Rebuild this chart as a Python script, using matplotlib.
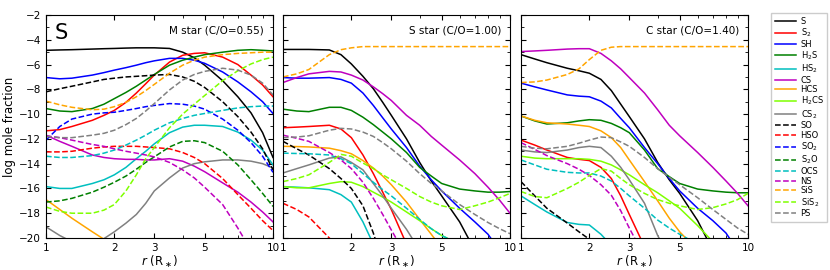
import numpy as np
import matplotlib.pyplot as plt
from matplotlib.ticker import MultipleLocator, NullFormatter

nan = np.nan

# radius grid (stellar radii)
r = [1, 1.15, 1.3, 1.6, 1.8, 2, 2.25, 2.5, 2.75, 3, 3.5, 4, 4.5, 5, 6, 7, 8, 9, 10]

species = ['S', 'S$_2$', 'SH', 'H$_2$S', 'HS$_2$', 'CS', 'HCS', 'H$_2$CS', 'CS$_2$',
           'SO', 'HSO', 'SO$_2$', 'S$_2$O', 'OCS', 'NS', 'SiS', 'SiS$_2$', 'PS']
colors = ['k', 'r', 'b', 'g', 'c', 'm', 'orange', 'chartreuse', 'gray'] * 2
styles = ['-'] * 9 + ['--'] * 9

NONE = [nan] * 19

# M star (C/O=0.55)
m_star = [
    [-4.85, -4.82, -4.8, -4.75, -4.72, -4.7, -4.67, -4.65, -4.65, -4.65, -4.7, -5.0, -5.45, -6.05, -7.3, -8.6, -9.9, -11.5, -13.5],
    [-11.35, -11.25, -11.0, -10.5, -10.1, -9.7, -9.05, -8.3, -7.55, -6.85, -5.8, -5.25, -5.1, -5.05, -5.4, -6.0, -6.85, -7.65, -8.6],
    [-7.05, -7.15, -7.1, -6.85, -6.65, -6.45, -6.25, -6.05, -5.85, -5.7, -5.5, -5.5, -5.65, -5.9, -6.6, -7.4, -8.2, -9.0, -9.95],
    [-9.55, -9.75, -9.8, -9.55, -9.2, -8.75, -8.25, -7.75, -7.25, -6.8, -6.05, -5.65, -5.4, -5.2, -5.0, -4.85, -4.8, -4.85, -4.9],
    [-15.85, -16.0, -16.0, -15.6, -15.3, -14.9, -14.3, -13.6, -13.0, -12.4, -11.5, -11.05, -10.9, -10.9, -11.0, -11.45, -12.1, -12.9, -14.1],
    [-11.7, -12.2, -12.6, -13.3, -13.5, -13.6, -13.65, -13.65, -13.7, -13.7, -13.6, -13.8, -14.2, -14.65, -15.55, -16.3, -17.1, -17.9, -18.7],
    [-16.9, -17.7, -18.4, -19.5, -20.1, -20.6, nan, nan, nan, nan, nan, nan, nan, nan, nan, nan, nan, nan, nan],
    NONE,
    [-19.1, -19.8, -20.3, -20.4, -20.05, -19.5, -18.8, -18.1, -17.2, -16.2, -15.15, -14.35, -14.0, -13.85, -13.7, -13.7, -13.8, -14.0, -14.35],
    [-8.2, -7.95, -7.75, -7.4, -7.2, -7.1, -7.0, -6.95, -6.9, -6.85, -6.8, -7.0, -7.35, -7.85, -9.0, -10.2, -11.45, -12.8, -14.5],
    [-13.05, -13.05, -13.0, -12.75, -12.65, -12.6, -12.6, -12.6, -12.65, -12.7, -12.8, -13.1, -13.5, -14.0, -15.2, -16.5, -17.6, -18.6, -19.4],
    [-12.1, -11.0, -10.4, -10.0, -9.9, -9.85, -9.7, -9.55, -9.4, -9.3, -9.15, -9.2, -9.35, -9.6, -10.4, -11.3, -12.3, -13.4, -14.7],
    [-17.1, -17.0, -16.8, -16.3, -15.9, -15.5, -15.0, -14.45, -13.9, -13.45, -12.65, -12.2, -12.15, -12.3, -13.0, -14.1, -15.3, -16.4, -17.45],
    [-13.4, -13.5, -13.5, -13.35, -13.15, -12.9, -12.5, -12.1, -11.7, -11.3, -10.7, -10.35, -10.1, -9.95, -9.7, -9.5, -9.4, -9.35, -9.35],
    [-11.75, -11.9, -12.1, -12.45, -12.6, -12.8, -13.0, -13.15, -13.3, -13.45, -13.9, -14.5, -15.15, -15.9, -17.3, -19.2, -21.0, nan, nan],
    [-8.95, -9.25, -9.45, -9.65, -9.6, -9.4, -9.05, -8.6, -8.1, -7.6, -6.7, -6.05, -5.65, -5.4, -5.2, -5.1, -5.05, -5.0, -5.0],
    [-17.5, -17.85, -18.0, -18.0, -17.75, -17.3, -16.2, -14.9, -13.6, -12.7, -11.1, -10.0, -9.2, -8.5, -7.3, -6.5, -5.95, -5.6, -5.4],
    [-11.8, -11.9, -11.9, -11.7, -11.55, -11.3, -10.85, -10.35, -9.75, -9.15, -8.05, -7.25, -6.8, -6.55, -6.3, -6.45, -6.85, -7.5, -8.45],
]

# S star (C/O=1.00)
s_star = [
    [-4.78, -4.78, -4.78, -4.82, -5.2, -5.95, -6.95, -7.95, -9.05, -10.1, -12.0, -13.9, -15.4, -16.6, -18.7, -21.0, nan, nan, nan],
    [-11.1, -11.05, -11.0, -10.9, -11.2, -11.9, -13.3, -14.8, -16.3, -17.7, -20.5, nan, nan, nan, nan, nan, nan, nan, nan],
    [-7.05, -7.1, -7.1, -7.05, -7.2, -7.5, -8.3, -9.3, -10.3, -11.2, -12.7, -14.2, -15.3, -16.2, -17.6, -18.7, -19.7, -21.0, nan],
    [-9.6, -9.75, -9.8, -9.45, -9.45, -9.7, -10.25, -10.85, -11.45, -12.0, -13.1, -14.3, -15.0, -15.6, -16.05, -16.2, -16.3, -16.3, -16.25],
    [-15.85, -15.9, -15.95, -16.1, -16.5, -17.1, -18.7, -20.5, nan, nan, nan, nan, nan, nan, nan, nan, nan, nan, nan],
    [-7.45, -7.05, -6.75, -6.55, -6.6, -6.85, -7.25, -7.8, -8.35, -8.9, -10.1, -10.9, -11.8, -12.5, -13.7, -14.8, -15.9, -16.95, -18.0],
    [-12.6, -12.62, -12.65, -12.75, -12.95, -13.2, -13.75, -14.35, -15.0, -15.7, -17.1, -18.5, -19.7, -20.8, nan, nan, nan, nan, nan],
    [-15.85, -15.95, -15.95, -15.6, -15.45, -15.5, -15.85, -16.3, -16.7, -17.1, -17.9, -18.6, -19.25, -19.8, -20.5, nan, nan, nan, nan],
    [-14.75, -14.4, -14.1, -13.55, -13.45, -13.9, -14.5, -15.6, -16.6, -17.6, -19.3, -21.0, nan, nan, nan, nan, nan, nan, nan],
    [-12.2, -12.8, -13.3, -14.4, -15.2, -16.0, -17.4, -19.6, -22.0, nan, nan, nan, nan, nan, nan, nan, nan, nan, nan],
    [-17.2, -17.7, -18.3, -20.0, -21.0, nan, nan, nan, nan, nan, nan, nan, nan, nan, nan, nan, nan, nan, nan],
    NONE,
    NONE,
    [-13.15, -13.18, -13.2, -13.3, -13.6, -14.0, -14.8, -15.5, -16.1, -16.6, -17.6, -18.5, -19.25, -19.8, -20.5, nan, nan, nan, nan],
    [-11.7, -11.95, -12.2, -13.1, -13.7, -14.4, -15.5, -16.8, -18.1, -19.35, -21.5, nan, nan, nan, nan, nan, nan, nan, nan],
    [-7.0, -6.75, -6.4, -5.2, -4.8, -4.65, -4.55, -4.55, -4.55, -4.55, -4.55, -4.55, -4.55, -4.55, -4.55, -4.55, -4.55, -4.55, -4.55],
    [-15.45, -15.2, -14.9, -13.9, -13.25, -13.4, -13.95, -14.4, -14.9, -15.3, -16.0, -16.65, -17.1, -17.4, -17.7, -17.4, -17.1, -16.75, -16.4],
    [-11.9, -11.85, -11.75, -11.3, -11.15, -11.2, -11.45, -11.8, -12.3, -12.8, -13.8, -14.8, -15.6, -16.2, -17.3, -18.1, -18.75, -19.25, -19.65],
]

# C star (C/O=1.40)
c_star = [
    [-5.2, -5.55, -5.85, -6.3, -6.5, -6.7, -7.2, -8.1, -9.2, -10.2, -12.0, -13.9, -15.3, -16.4, -18.6, -21.0, nan, nan, nan],
    [-12.1, -12.5, -12.9, -13.5, -13.65, -13.75, -14.3, -15.2, -16.6, -18.1, -20.7, nan, nan, nan, nan, nan, nan, nan, nan],
    [-7.5, -7.8, -8.05, -8.45, -8.55, -8.6, -8.95, -9.5, -10.35, -11.1, -12.7, -14.0, -15.2, -16.2, -17.6, -18.6, -19.6, -21.0, nan],
    [-10.15, -10.55, -10.8, -10.7, -10.55, -10.45, -10.5, -10.75, -11.1, -11.5, -12.9, -14.4, -15.05, -15.6, -16.05, -16.2, -16.3, -16.35, -16.35],
    [-16.6, -17.3, -17.9, -18.75, -18.9, -18.95, -19.7, -20.6, nan, nan, nan, nan, nan, nan, nan, nan, nan, nan, nan],
    [-4.95, -4.9, -4.85, -4.75, -4.72, -4.72, -5.1, -5.7, -6.35, -7.05, -8.3, -9.65, -10.9, -11.75, -13.1, -14.3, -15.4, -16.4, -17.4],
    [-10.15, -10.5, -10.7, -10.8, -10.9, -11.0, -11.35, -11.9, -12.7, -13.7, -15.45, -17.0, -18.4, -19.5, -21.0, nan, nan, nan, nan],
    [-13.4, -13.55, -13.6, -13.6, -13.6, -13.65, -13.8, -14.1, -14.5, -14.9, -15.7, -16.35, -17.0, -17.6, -19.0, -20.3, nan, nan, nan],
    [-12.9, -13.05, -13.1, -12.9, -12.7, -12.6, -12.7, -13.4, -14.3, -15.3, -17.2, -19.8, -21.5, nan, nan, nan, nan, nan, nan],
    [-15.45, -16.6, -17.6, -18.8, -19.5, -20.1, -21.0, nan, nan, nan, nan, nan, nan, nan, nan, nan, nan, nan, nan],
    NONE,
    NONE,
    NONE,
    [-13.7, -14.1, -14.45, -14.7, -14.75, -14.75, -15.0, -15.4, -16.0, -16.6, -17.6, -18.55, -19.2, -19.7, -20.5, nan, nan, nan, nan],
    [-12.3, -12.85, -13.35, -14.0, -14.45, -14.95, -15.7, -16.55, -17.8, -19.2, -21.5, nan, nan, nan, nan, nan, nan, nan, nan],
    [-7.45, -7.4, -7.25, -6.8, -6.35, -5.6, -4.85, -4.6, -4.55, -4.55, -4.55, -4.55, -4.55, -4.55, -4.55, -4.55, -4.55, -4.55, -4.55],
    [-16.25, -16.65, -16.75, -16.0, -15.5, -14.95, -14.4, -14.6, -15.2, -15.7, -16.4, -16.9, -17.2, -17.4, -17.7, -17.55, -17.25, -16.9, -16.4],
    [-12.6, -12.75, -12.8, -12.6, -12.35, -12.1, -11.85, -11.9, -12.25, -12.6, -13.5, -14.4, -15.1, -15.7, -16.75, -17.7, -18.5, -19.2, -19.7],
]

panels = [m_star, s_star, c_star]
titles = ['M star (C/O=0.55)', 'S star (C/O=1.00)', 'C star (C/O=1.40)']

fig = plt.figure(figsize=(8.3, 2.7), dpi=100)
lefts = [46/830, 283/830, 521/830]
axes = []
for i, data in enumerate(panels):
    ax = fig.add_axes([lefts[i], 32/270, 227/830, 223/270])
    for j in range(len(species)):
        ax.plot(r, data[j], color=colors[j], ls=styles[j], lw=1.1, label=species[j])
    ax.set_xscale('log')
    ax.set_xlim(1, 10)
    ax.set_ylim(-20, -2)
    ax.set_xticks([1, 2, 3, 5, 10])
    ax.set_xticklabels(['1', '2', '3', '5', '10'])
    ax.xaxis.set_minor_formatter(NullFormatter())
    ax.yaxis.set_major_locator(MultipleLocator(2))
    ax.yaxis.set_minor_locator(MultipleLocator(1))
    ax.tick_params(which='both', direction='in', top=True, right=True, labelsize=7.5)
    ax.tick_params(which='major', length=3.5)
    ax.tick_params(which='minor', length=2)
    ax.set_xlabel(r'$r$ (R$_\ast$)', fontsize=8.5, labelpad=1)
    ax.text(0.96, 0.93, titles[i], transform=ax.transAxes, ha='right', va='center', fontsize=7.5)
    if i == 0:
        ax.set_ylabel('log mole fraction', fontsize=8.5, labelpad=2)
        ax.text(0.04, 0.92, 'S', transform=ax.transAxes, ha='left', va='center', fontsize=15)
    else:
        ax.set_yticklabels([])
    axes.append(ax)

h, l = axes[0].get_legend_handles_labels()

# legend box should span ~209 px in height (y=13..222)
fs = 6
spacing = 0.1
for _ in range(4):
    leg = fig.legend(h, l, loc='upper left', bbox_to_anchor=(771/830, 1 - 13/270), fontsize=fs,
                     handlelength=2.6, handletextpad=0.5, labelspacing=spacing, borderpad=0.45,
                     borderaxespad=0, fancybox=False, edgecolor='#cccccc', framealpha=1)
    fig.canvas.draw()
    hgt = leg.get_window_extent().height
    spacing = max(0.0, spacing + (209 - hgt) / (17 * fs * 100 / 72))
    leg.remove()

fig.legend(h, l, loc='upper left', bbox_to_anchor=(771/830, 1 - 13/270), fontsize=fs,
           handlelength=2.6, handletextpad=0.5, labelspacing=spacing, borderpad=0.45,
           borderaxespad=0, fancybox=False, edgecolor='#cccccc', framealpha=1)

fig.savefig('out.png', dpi=100)
